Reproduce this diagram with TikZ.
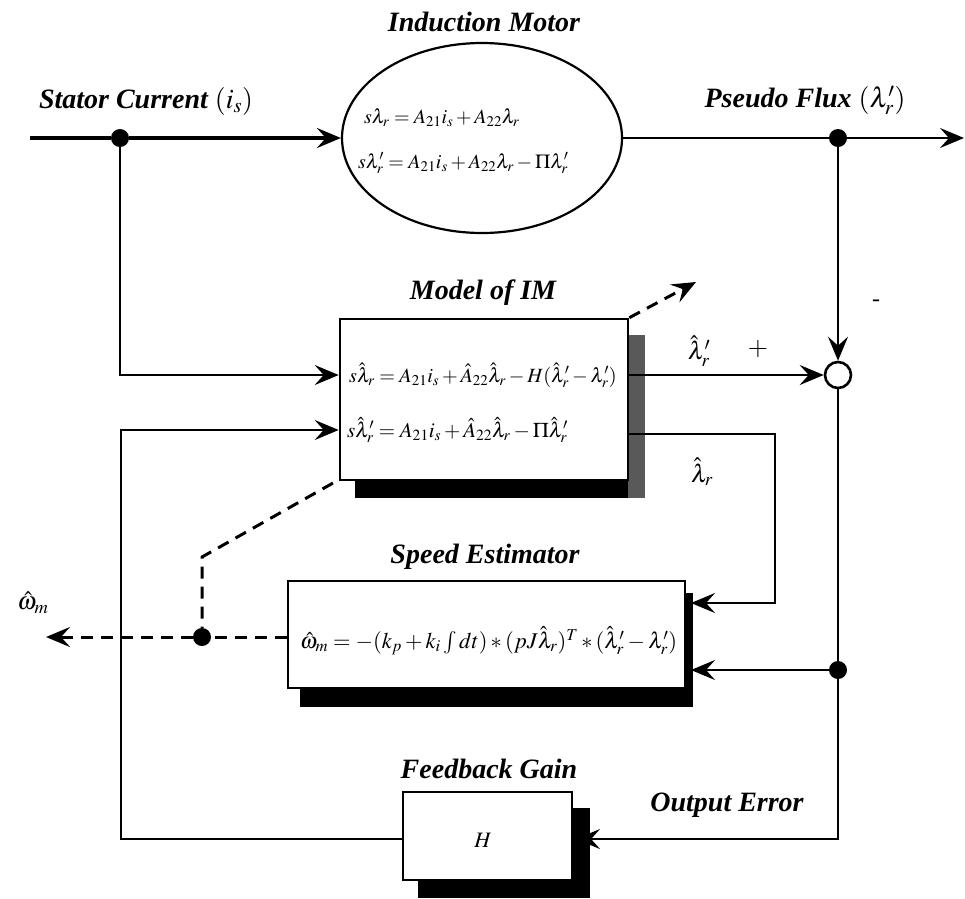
\documentclass[tikz,border=0pt]{standalone}
\usepackage{mathptmx}
\usepackage[no-math]{fontspec}
\setmainfont{Liberation Serif}
\usetikzlibrary{arrows.meta,shapes.geometric}

\begin{document}
\begin{tikzpicture}[x=1pt,y=-1pt,
  ln/.style={line width=2.6pt},
  lnthin/.style={line width=2.1pt},
  arr/.style={-{Stealth[length=24pt,width=20pt,inset=9pt]}},
  dsh/.style={line width=3pt,dash pattern=on 12pt off 8pt},
  lbl/.style={inner sep=0pt,font=\fontsize{28}{32}\selectfont\bfseries\itshape},
  eqa/.style={inner sep=0pt,anchor=west,font=\fontsize{20}{24}\selectfont},
  eqb/.style={inner sep=0pt,anchor=west,font=\fontsize{21}{25}\selectfont},
  eqc/.style={inner sep=0pt,anchor=west,font=\fontsize{22.5}{26}\selectfont},
  sym/.style={inner sep=0pt,font=\fontsize{25}{28}\selectfont},
  blk/.style={draw,line width=2.6pt,fill=white,inner sep=0pt},
  dotn/.style={circle,fill=black,minimum size=18pt,inner sep=0pt},
  sumn/.style={circle,draw,line width=2.6pt,fill=white,minimum size=26pt,inner sep=0pt},
]
\useasboundingbox (0,0) rectangle (965,898);

% block shadows
\fill[black!65] (628,335) rectangle (645,498);
\fill[black] (355,480) rectangle (628,498);
\fill[black] (300,593) rectangle (693,707);
\fill[black] (418,808) rectangle (590,898);

% plant
\node[ellipse,draw,line width=2.2pt,minimum width=280pt,minimum height=190pt] (im) at (482,138) {};
\node[eqa] (e1) at (364,118) {$s\lambda_r = A_{21}i_s + A_{22}\lambda_r$};
\node[eqa] (e2) at (358,163) {$s\lambda'_r = A_{21}i_s + A_{22}\lambda_r - \Pi\lambda'_r$};

% observer blocks
\node[blk,minimum width=288pt,minimum height=161pt] (model) at (484,399.5) {};
\node[eqb,font=\fontsize{20.2}{24}\selectfont] (m1) at (349,375) {$s\hat{\lambda}_r = A_{21}i_s + \hat{A}_{22}\hat{\lambda}_r - H(\hat{\lambda}'_r - \lambda'_r)$};
\node[eqb] (m2) at (347,430) {$s\hat{\lambda}'_r = A_{21}i_s + \hat{A}_{22}\hat{\lambda}_r - \Pi\hat{\lambda}'_r$};

\node[blk,minimum width=397pt,minimum height=107pt] (spd) at (486.5,634.5) {};
\node[eqc] (se) at (300,641) {$\hat{\omega}_m = -(k_p + k_i\textstyle\int dt)*(pJ\hat{\lambda}_r)^T*(\hat{\lambda}'_r - \lambda'_r)$};

\node[blk,minimum width=169pt,minimum height=88pt] (H) at (487.5,836) {};
\node[inner sep=0pt,font=\fontsize{22}{24}\selectfont] (hl) at (483,840) {$H$};

% titles and labels
\node[lbl] (t1) at (484,22) {Induction Motor};
\node[lbl] (t2) at (146,101) {Stator Current $(i_s)$};
\node[lbl] (t3) at (805,100) {Pseudo Flux $(\lambda'_r)$};
\node[lbl] (t4) at (483,293) {Model of IM};
\node[lbl] (t5) at (485,557) {Speed Estimator};
\node[lbl] (t6) at (489,769) {Feedback Gain};
\node[lbl] (t7) at (727,805) {Output Error};
\node[sym] (l1) at (699,351) {$\hat{\lambda}'_r$};
\node[sym] (l2) at (702,472) {$\hat{\lambda}_r$};
\node[sym] (l3) at (33,603) {$\hat{\omega}_m$};
\node[inner sep=0pt,font=\fontsize{26}{28}\selectfont] (pl) at (758,349) {$+$};
\node[inner sep=0pt,font=\fontsize{24}{28}\selectfont] (mi) at (876,303) {-};

% branch points and junction
\node[dotn] (s1) at (120,138) {};
\node[dotn] (s2) at (838,138) {};
\node[sumn] (sum) at (838,375) {};
\node[dotn] (s3) at (838,670) {};
\node[dotn] (s4) at (202,637) {};

\coordinate (inL) at (30,138);
\coordinate (outR) at (964,138);
\coordinate (lrc) at (775,434);
\coordinate (si1) at (691,603);
\coordinate (si2) at (691,670);
\coordinate (hc) at (838,839);
\coordinate (hin) at (576,839);
\coordinate (lc1) at (121,839);
\coordinate (lc2) at (121,430);
\coordinate (wout) at (46,637);
\coordinate (dstart) at (333,483);
\coordinate (dk) at (202,557);
\coordinate (tun) at (696,282);

% signal paths
\draw[line width=3.4pt] (inL) -- (s1);
\draw[line width=3.4pt,arr] (s1) -- (im.west);
\draw[ln] (im.east) -- (s2);
\draw[ln,arr] (s2) -- (outR);
\draw[ln,arr] (s2) -- (sum.north);
\draw[lnthin,arr] (s1) |- (model.west |- sum);
\draw[ln,arr] (model.east |- sum) -- (sum.west);
\draw[ln,arr] (model.east |- lrc) -- (lrc) |- (si1);
\draw[ln] (sum.south) -- (s3);
\draw[ln,arr] (s3) -- (si2);
\draw[ln,arr] (s3) -- (hc) -- (hin);
\draw[lnthin,arr] (H.west |- hc) -- (lc1) -- (lc2) -- (model.west |- lc2);

% estimated speed and adaptation
\draw[dsh] (spd.west |- s4) -- (s4);
\draw[dsh,arr] (s4) -- (wout);
\draw[dsh] (dstart) -- (dk) -- (s4);
\draw[dsh,arr] (model.north east) -- (tun);
\end{tikzpicture}
\end{document}
